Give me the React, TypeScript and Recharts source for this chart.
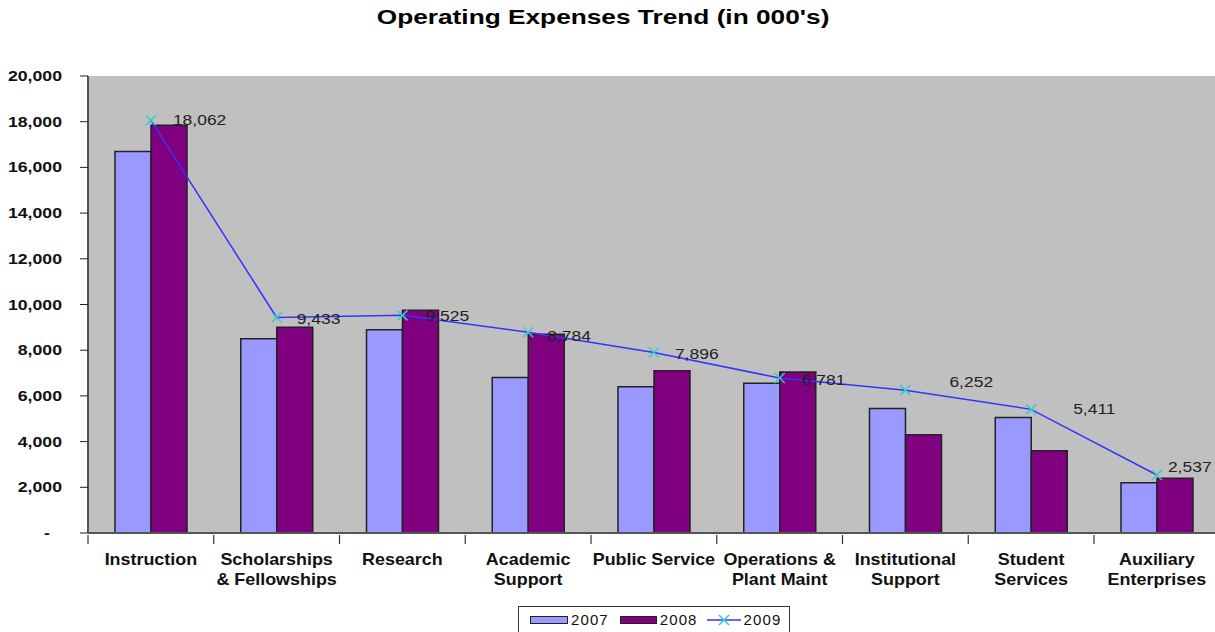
import React from "react";
import {
  ComposedChart,
  Bar,
  Line,
  XAxis,
  YAxis,
  CartesianGrid,
  Legend,
  LabelList,
} from "recharts";

const categories = [
  "Instruction",
  "Scholarships\n& Fellowships",
  "Research",
  "Academic\nSupport",
  "Public Service",
  "Operations &\nPlant Maint",
  "Institutional\nSupport",
  "Student\nServices",
  "Auxiliary\nEnterprises",
];
const values2007 = [16700, 8500, 8900, 6800, 6400, 6550, 5450, 5050, 2200];
const values2008 = [17850, 9000, 9750, 8700, 7100, 7050, 4300, 3600, 2400];
const values2009 = [18062, 9433, 9525, 8784, 7896, 6781, 6252, 5411, 2537];
const yTicks = [0, 2000, 4000, 6000, 8000, 10000, 12000, 14000, 16000, 18000, 20000];

// where Excel left each 2009 label, relative to its point
const labelNudge = [
  [22, 0], [20, 2], [23, 1], [19, 4], [21, 1], [22, 2], [44, -8], [42, 0], [11, -8],
];

const data = categories.map((name, i) => ({
  name,
  y2007: values2007[i],
  y2008: values2008[i],
  y2009: values2009[i],
}));

const FONT = "'Liberation Sans', Arial, sans-serif";
const W = 1215;
const H = 632;
const LEFT = 88;
const BAND = 125.75;
const CHART_W = LEFT + BAND * categories.length;

const fmt = (v: number) => v.toLocaleString("en-US");

function YTick({ x, y, payload }: any) {
  const v = payload.value;
  return (
    <text
      transform={`translate(${v === 0 ? x - 12 : x},${y + 5}) scale(1.18,1)`}
      textAnchor="end"
      fontFamily={FONT}
      fontWeight="bold"
      fontSize={15}
      fill="#111"
    >
      {v === 0 ? "-" : fmt(v)}
    </text>
  );
}

function XTick({ x, y, payload }: any) {
  const lines = String(payload.value).split("\n");
  const bx = x - BAND / 2;
  return (
    <g>
      <line x1={bx} y1={y} x2={bx} y2={y + 9} stroke="#333" strokeWidth={1.2} />
      <text
        transform={`translate(${x},${y + 30}) scale(1.12,1)`}
        textAnchor="middle"
        fontFamily={FONT}
        fontWeight="bold"
        fontSize={16}
        fill="#111"
      >
        {lines.map((l, i) => (
          <tspan key={i} x={0} dy={i === 0 ? 0 : 20}>
            {l}
          </tspan>
        ))}
      </text>
    </g>
  );
}

function XDot({ cx, cy }: any) {
  if (cx == null || cy == null) return null;
  const s = 5;
  return (
    <path
      d={`M${cx - s},${cy - s}L${cx + s},${cy + s}M${cx - s},${cy + s}L${cx + s},${cy - s}`}
      stroke="#33CCCC"
      strokeWidth={1.5}
      fill="none"
    />
  );
}

function PointLabel({ x, y, value, index }: any) {
  const [dx, dy] = labelNudge[index] || [22, 0];
  return (
    <text
      transform={`translate(${x + dx},${y + dy + 5}) scale(1.25,1)`}
      fontFamily={FONT}
      fontSize={14}
      fill="#222"
    >
      {fmt(value)}
    </text>
  );
}

const legendText: React.CSSProperties = { letterSpacing: 1.1 };

function LegendBox() {
  return (
    <div style={{ height: 26, position: "relative" }}>
      <div
        style={{
          position: "absolute",
          left: 518,
          top: 0,
          boxSizing: "border-box",
          width: 272,
          height: 26,
          border: "1px solid #333",
          borderBottom: "none",
          display: "flex",
          alignItems: "center",
          paddingLeft: 11,
          fontFamily: FONT,
          fontSize: 15,
          color: "#111",
        }}
      >
        <span style={{ display: "inline-block", width: 36, height: 6, background: "#9999FF", border: "1px solid #222" }} />
        <span style={{ ...legendText, marginLeft: 3, marginRight: 11 }}>2007</span>
        <span style={{ display: "inline-block", width: 35, height: 6, background: "#800080", border: "1px solid #222" }} />
        <span style={{ ...legendText, marginLeft: 3, marginRight: 9 }}>2008</span>
        <svg width={34} height={12} style={{ display: "block" }}>
          <line x1={0} y1={6} x2={34} y2={6} stroke="#3333FF" strokeWidth={1.5} />
          <path d="M12,1L22,11M12,11L22,1" stroke="#33CCCC" strokeWidth={1.5} />
        </svg>
        <span style={{ ...legendText, marginLeft: 3 }}>2009</span>
      </div>
    </div>
  );
}

export default function App() {
  return (
    <div style={{ position: "absolute", left: 0, top: 0, width: W, height: H, overflow: "hidden", background: "#fff" }}>
      <div
        style={{
          position: "absolute",
          top: 5,
          left: 0,
          width: 1206,
          textAlign: "center",
          fontFamily: FONT,
          fontWeight: "bold",
          fontSize: 21,
          color: "#000",
          zIndex: 2,
        }}
      >
        <span style={{ display: "inline-block", transform: "scaleX(1.25)" }}>
          Operating Expenses Trend (in 000's)
        </span>
      </div>
      <ComposedChart
        width={CHART_W}
        height={H}
        data={data}
        margin={{ top: 76, right: 0, left: 0, bottom: 0 }}
        barGap={0}
        barSize={36}
      >
        <CartesianGrid fill="#C0C0C0" stroke="none" horizontal={false} vertical={false} />
        <XAxis
          dataKey="name"
          interval={0}
          height={73}
          tickLine={false}
          tickSize={0}
          tick={<XTick />}
          axisLine={{ stroke: "#555", strokeWidth: 2 }}
        />
        <YAxis
          width={LEFT}
          domain={[0, 20000]}
          ticks={yTicks}
          interval={0}
          tickSize={8}
          tickMargin={18}
          tick={<YTick />}
          tickLine={{ stroke: "#222" }}
          axisLine={{ stroke: "#555", strokeWidth: 2 }}
        />
        <Legend verticalAlign="bottom" content={() => <LegendBox />} />
        <Bar dataKey="y2007" name="2007" fill="#9999FF" stroke="#222" strokeWidth={1.5} isAnimationActive={false} />
        <Bar dataKey="y2008" name="2008" fill="#800080" stroke="#222" strokeWidth={1.5} isAnimationActive={false} />
        <Line
          dataKey="y2009"
          name="2009"
          stroke="#3333FF"
          strokeWidth={1.5}
          dot={<XDot />}
          activeDot={false}
          isAnimationActive={false}
        >
          <LabelList dataKey="y2009" content={<PointLabel />} />
        </Line>
      </ComposedChart>
    </div>
  );
}
